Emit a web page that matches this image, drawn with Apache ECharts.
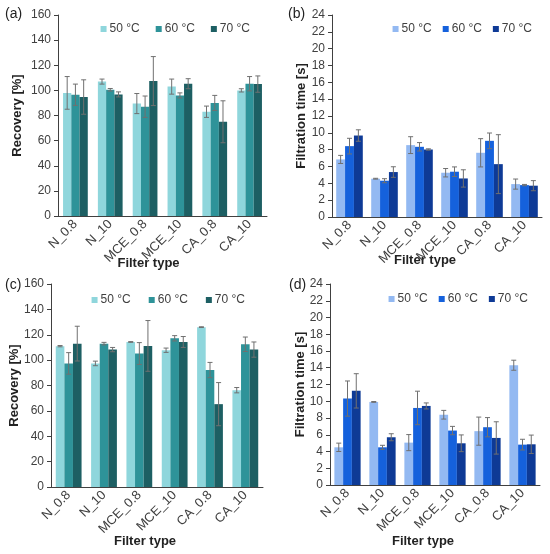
<!DOCTYPE html>
<html lang="en">
<head>
    <meta charset="UTF-8">
    <title>filtration</title>
    <style>
        body { margin: 0; background: #fff; }
        .panel { position: absolute; width: 275px; height: 277px; }
    </style>
</head>
<body>
<div id="pa" class="panel" style="left:0;top:0"></div>
<div id="pb" class="panel" style="left:275px;top:0"></div>
<div id="pc" class="panel" style="left:0;top:277px"></div>
<div id="pd" class="panel" style="left:275px;top:277px"></div>
<script src="https://cdn.jsdelivr.net/npm/echarts@6/dist/echarts.min.js"></script>
<script>
    const filters = ['N_0.8', 'N_10', 'MCE_0.8', 'MCE_10', 'CA_0.8', 'CA_10'];
    const temps = ['50 °C', '60 °C', '70 °C'];

    // (a) recovery
    const recA50 = [98, 107, 89.5, 103, 83, 100];
    const recA60 = [96.5, 100.5, 87, 96, 90, 105.3];
    const recA70 = [94.7, 96.8, 107.4, 105.3, 75, 105];
    const errA50 = [13, 2, 8, 6, 4.5, 1.3];
    const errA60 = [8.5, 1, 8.5, 2, 6, 5.7];
    const errA70 = [13.7, 2, 19.5, 4, 16.7, 6.5];

    // (b) filtration time
    const timeB50 = [6.84, 4.55, 8.54, 5.26, 7.63, 3.91];
    const timeB60 = [8.42, 4.31, 8.34, 5.38, 9.05, 3.79];
    const timeB70 = [9.68, 5.34, 8.02, 4.58, 6.28, 3.72];
    const errB50 = [0.48, 0.05, 1.0, 0.5, 1.68, 0.6];
    const errB60 = [0.93, 0.24, 0.5, 0.57, 0.93, 0.08];
    const errB70 = [0.68, 0.63, 0.08, 1.03, 3.5, 0.6];

    // (c) recovery
    const recC50 = [111, 97.4, 114.3, 107.8, 126, 76.3];
    const recC60 = [97.4, 113, 105.2, 117.2, 92.2, 112.5];
    const recC70 = [113, 108.3, 111.2, 114.3, 65.3, 108.3];
    const errC50 = [0.5, 1.8, 0.3, 1.7, 0.3, 2.1];
    const errC60 = [8.5, 1, 8.6, 2.1, 6, 5.7];
    const errC70 = [13.7, 1.7, 20, 4.3, 17, 6];

    // (d) filtration time
    const timeD50 = [4.5, 9.92, 5.06, 8.39, 6.43, 14.3];
    const timeD60 = [10.32, 4.5, 9.2, 6.5, 6.9, 4.82];
    const timeD70 = [11.24, 5.7, 9.44, 4.98, 5.62, 4.86];
    const errD50 = [0.5, 0.05, 0.96, 0.52, 1.68, 0.6];
    const errD60 = [2.1, 0.24, 2.0, 0.5, 1.15, 0.64];
    const errD70 = [2.05, 0.42, 0.36, 1.0, 1.93, 1.1];

    const tealColors = ['#8fd6dc', '#2e9399', '#1d5f63'];
    const blueColors = ['#93b9f2', '#1561dc', '#0e3a96'];

    const font = 'Liberation Sans, Arial, sans-serif';

    function errRender(idx, gap) {
        return function (params, api) {
            const x = api.value(0), v = api.value(1), e = api.value(2);
            const band = api.size([1, 0])[0];
            const bw = band * (1 - gap) / 3;
            const cx = api.coord([x, v])[0] + (idx - 1) * bw;
            const top = api.coord([x, v + e])[1];
            const bot = api.coord([x, v - e])[1];
            const h = 2.5;
            const st = {stroke: '#707070', lineWidth: 1};
            return {
                type: 'group',
                children: [
                    {type: 'line', shape: {x1: cx, y1: top, x2: cx, y2: bot}, style: st},
                    {type: 'line', shape: {x1: cx - h, y1: top, x2: cx + h, y2: top}, style: st},
                    {type: 'line', shape: {x1: cx - h, y1: bot, x2: cx + h, y2: bot}, style: st}
                ]
            };
        };
    }

    function makeChart(id, p) {
        const chart = echarts.init(document.getElementById(id));
        const series = [];
        p.values.forEach(function (vals, i) {
            series.push({
                name: temps[i],
                type: 'bar',
                data: vals,
                barGap: '0%',
                barCategoryGap: (p.gap * 100) + '%',
                itemStyle: {color: p.colors[i]},
                z: 2
            });
        });
        p.values.forEach(function (vals, i) {
            series.push({
                type: 'custom',
                renderItem: errRender(i, p.gap),
                data: vals.map(function (v, k) { return [k, v, p.errs[i][k]]; }),
                encode: {x: 0, y: 1},
                z: 5,
                silent: true
            });
        });
        chart.setOption({
            animation: false,
            textStyle: {fontFamily: font},
            graphic: [{
                type: 'text', left: p.lab[0], top: p.lab[1],
                style: {text: p.label, font: '14px ' + font, fill: '#222'}
            }],
            legend: {
                data: temps,
                right: p.legend[0], top: p.legend[1],
                itemWidth: 6, itemHeight: 6, itemGap: p.legend[2],
                icon: 'rect',
                textStyle: {fontSize: 12, color: '#404040', fontFamily: font, padding: [0, 0, 0, -2]}
            },
            grid: {
                left: p.grid[0], top: p.grid[1], right: p.grid[2], bottom: p.grid[3],
                containLabel: false, outerBoundsMode: 'none'
            },
            xAxis: {
                type: 'category',
                data: filters,
                name: 'Filter type',
                nameLocation: 'middle',
                nameGap: p.xGap,
                nameMoveOverlap: false,
                nameTextStyle: {fontSize: 13, fontWeight: 'bold', color: '#222', fontFamily: font, padding: [0, p.xShift, 0, 0]},
                axisLine: {lineStyle: {color: '#404040', width: 1}},
                axisTick: {show: false},
                axisLabel: {rotate: 45, fontSize: 13, color: '#404040', margin: 6, interval: 0}
            },
            yAxis: {
                type: 'value',
                min: 0, max: p.max, interval: p.step,
                name: p.yName,
                nameLocation: 'middle',
                nameGap: p.yGap,
                nameMoveOverlap: false,
                nameTextStyle: {fontSize: 13, fontWeight: 'bold', color: '#222', fontFamily: font},
                axisLine: {show: true, lineStyle: {color: '#404040', width: 1}},
                axisTick: {show: true, length: 4, lineStyle: {color: '#404040'}},
                splitLine: {show: false},
                axisLabel: {fontSize: 12, color: '#404040', margin: 7}
            },
            series: series
        });
    }

    makeChart('pa', {
        label: '(a)', lab: [5, 7],
        values: [recA50, recA60, recA70], errs: [errA50, errA60, errA70],
        colors: tealColors, gap: 0.29, max: 160, step: 20,
        yName: 'Recovery [%]', yGap: 34, xGap: 41, xShift: 28,
        grid: [58, 15, 8, 61], legend: [20, 18, 16]
    });
    makeChart('pb', {
        label: '(b)', lab: [13, 7],
        values: [timeB50, timeB60, timeB70], errs: [errB50, errB60, errB70],
        colors: blueColors, gap: 0.24, max: 24, step: 2,
        yName: 'Filtration time [s]', yGap: 24, xGap: 37, xShift: 24,
        grid: [57, 15, 8, 60], legend: [13, 18, 11]
    });
    makeChart('pc', {
        label: '(c)', lab: [5, 1],
        values: [recC50, recC60, recC70], errs: [errC50, errC60, errC70],
        colors: tealColors, gap: 0.27, max: 160, step: 20,
        yName: 'Recovery [%]', yGap: 30, xGap: 48, xShift: 24,
        grid: [51, 7, 12, 67], legend: [25, 12, 18]
    });
    makeChart('pd', {
        label: '(d)', lab: [14, 1],
        values: [timeD50, timeD60, timeD70], errs: [errD50, errD60, errD70],
        colors: blueColors, gap: 0.25, max: 24, step: 2,
        yName: 'Filtration time [s]', yGap: 23, xGap: 50, xShift: 24,
        grid: [55, 7, 10, 69], legend: [17, 11, 11]
    });
</script>
</body>
</html>
